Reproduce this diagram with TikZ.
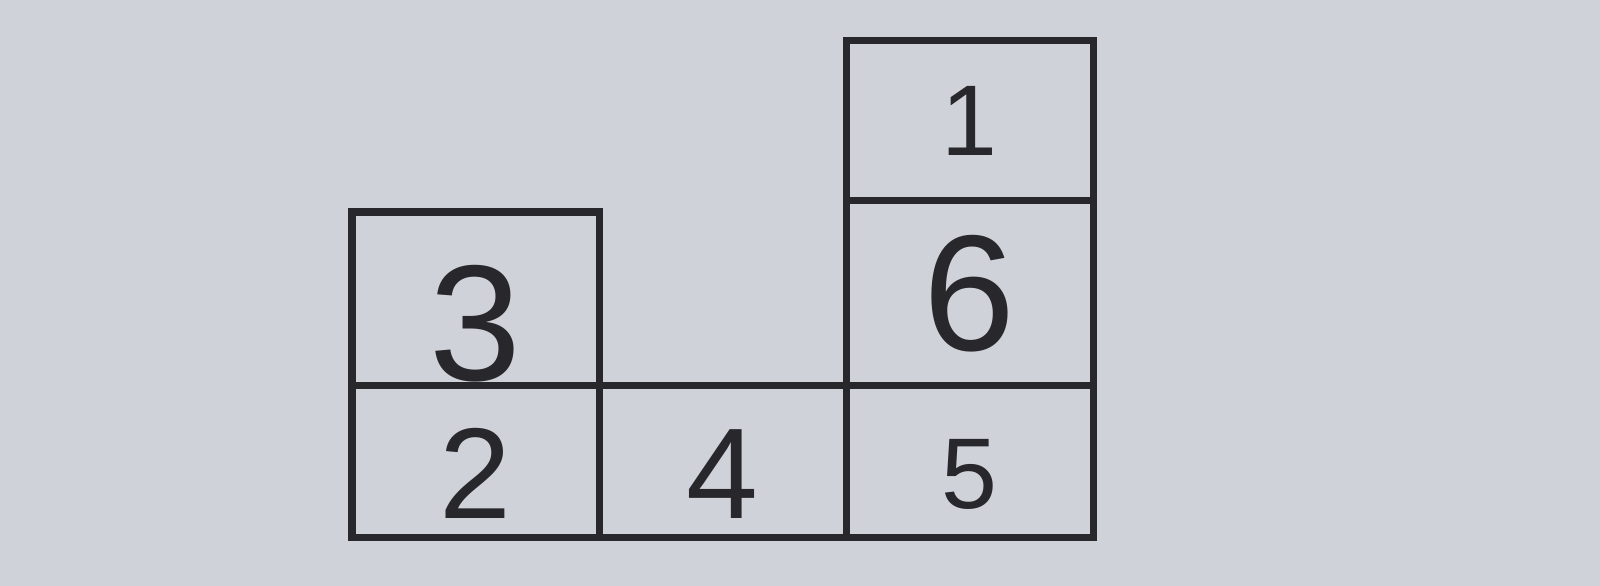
\documentclass[tikz,border=0pt]{standalone}
\usepackage{fontspec}
\setmainfont{Liberation Sans}
\usetikzlibrary{positioning}
\definecolor{paper}{RGB}{207,210,217}
\definecolor{ink}{RGB}{40,40,44}

\begin{document}
\begin{tikzpicture}[x=0.01cm,y=0.01cm,node distance=0pt,
   box/.style={draw=ink,line width=2pt,shape=rectangle,outer sep=0pt,inner sep=0pt,minimum width=2.42cm,text=ink},
   low/.style={minimum height=1.49cm},
   big/.style={font=\fontsize{46}{46}\selectfont},
   mid/.style={font=\fontsize{36}{36}\selectfont,text height=1.12cm},
   small/.style={font=\fontsize{28}{28}\selectfont}]
   \fill[paper] (0,0) rectangle (1568,574);
   \useasboundingbox (0,0) rectangle (1568,574);
   \node[box,low,mid,anchor=south west] (B2) at (345,47) {2};
   \node[box,low,mid,right=of B2      ] (B4)             {4};
   \node[box,low,small,text height=0.92cm,right=of B4] (B5) {5};
   \node[box,big,minimum height=1.70cm,text height=1.62cm,above=of B2] (B3) {3};
   \node[box,big,minimum height=1.81cm,above=of B5] (B6) {6};
   \node[box,small,minimum height=1.57cm,above=of B6] (B1) {1};
\end{tikzpicture}
\end{document}
